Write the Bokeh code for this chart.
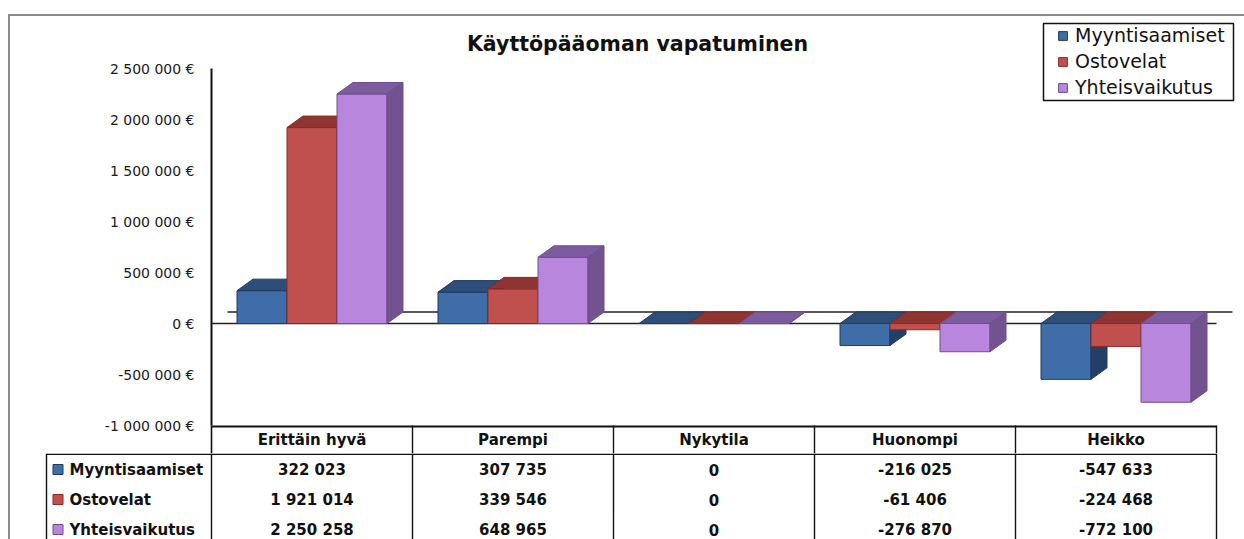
from bokeh.plotting import figure
from bokeh.models import (Range1d, FixedTicker, CustomJSTickFormatter, Legend,
                          LegendItem, BoxAnnotation, Label)
from bokeh.layouts import column
from bokeh.embed import file_html
from bokeh.resources import INLINE
from bokeh.core.properties import value

# ---------------- data ----------------
chart_title = "Käyttöpääoman vapatuminen"
categories = ["Erittäin hyvä", "Parempi", "Nykytila", "Huonompi", "Heikko"]
series_names = ["Myyntisaamiset", "Ostovelat", "Yhteisvaikutus"]
myyntisaamiset = [322023, 307735, 0, -216025, -547633]
ostovelat = [1921014, 339546, 0, -61406, -224468]
yhteisvaikutus = [2250258, 648965, 0, -276870, -772100]
y_ticks = [-1000000, -500000, 0, 500000, 1000000, 1500000, 2000000, 2500000]

series = [myyntisaamiset, ostovelat, yhteisvaikutus]

# ---------------- styles ----------------
FONT = "DejaVu Sans"
front_colors = ["#3E6DA7", "#C0504D", "#B887DD"]
top_colors = ["#2C4E78", "#8E3532", "#7C5C9E"]
side_colors = ["#233F66", "#7A2C2A", "#72538F"]
edge_colors = ["#1F3B60", "#8A2A28", "#6E4E8E"]
INK = "#111111"

# ---------------- layout (page pixels) ----------------
W = 1244
P1_H = 453               # plot area + table header row
P2_H = 86                # table body rows
FRAME_LEFT = 205         # left edge of the drawing frame
AXIS_PX = 211            # x pixel of the value axis
ZERO_PX = 323            # y pixel of value 0
PLOT_BOTTOM = 425        # y pixel of the plot-area bottom / table top
CAT_PX = 201.0           # pixel width of one category
VAL_PER_PX = 500000 / 51.0
n = len(categories)


def xd(px):
    return (px - AXIS_PX) / CAT_PX


def yd(py):
    return (ZERO_PX - py) * VAL_PER_PX


BAR_W = 50 / CAT_PX
DX = 16 / CAT_PX
DY = 11.5 * VAL_PER_PX
Y0, Y1 = y_ticks[0], y_ticks[-1]

p1 = figure(width=W, height=P1_H, x_range=Range1d(xd(FRAME_LEFT), xd(W)),
            y_range=Range1d(yd(P1_H), yd(0)),
            x_axis_location=None, toolbar_location=None, output_backend="svg",
            min_border_left=FRAME_LEFT, min_border_right=0,
            min_border_top=0, min_border_bottom=0,
            outline_line_color=None, background_fill_color=None,
            border_fill_color=None)
p1.frame_align = False
p1.grid.visible = False

ax = p1.yaxis[0]
ax.ticker = FixedTicker(ticks=y_ticks)
ax.formatter = CustomJSTickFormatter(code=r"""
const s = Math.round(tick).toString().replace(/\B(?=(\d{3})+(?!\d))/g, " ");
return s + " €";
""")
ax.major_tick_out = 0
ax.major_tick_in = 0
ax.minor_tick_out = 0
ax.minor_tick_in = 0
ax.axis_line_color = None
ax.major_label_standoff = 11
ax.major_label_text_font = FONT
ax.major_label_text_font_size = "14px"
ax.major_label_text_color = "#1a1a1a"

# value axis line
p1.segment(x0=[0], y0=[Y0], x1=[0], y1=[Y1], line_color=INK, line_width=2)

# floor lines (front and back edge of the zero plane)
p1.segment(x0=[0, DX], y0=[0, DY], x1=[n, n + DX], y1=[0, DY],
           line_color="#222222", line_width=1.3)

front_renderers = []
for k, vals in enumerate(series):
    xl = [i + 0.5 + (k - 1) * BAR_W - BAR_W / 2 for i in range(n)]
    xr = [a + BAR_W for a in xl]
    tops = [max(v, 0) for v in vals]
    bots = [min(v, 0) for v in vals]
    r = p1.quad(left=xl, right=xr, top=tops, bottom=bots,
                fill_color=front_colors[k], line_color=edge_colors[k], line_width=1)
    front_renderers.append(r)
    p1.patches(xs=[[l, rr, rr + DX, l + DX] for l, rr in zip(xl, xr)],
               ys=[[t, t, t + DY, t + DY] for t in tops],
               fill_color=top_colors[k], line_color=edge_colors[k], line_width=1)
    p1.patches(xs=[[rr, rr + DX, rr + DX, rr] for rr in xr],
               ys=[[b, b + DY, t + DY, t] for b, t in zip(bots, tops)],
               fill_color=side_colors[k], line_color=edge_colors[k], line_width=1)

p1.add_layout(Label(x=xd(637), y=yd(43), text=chart_title,
                    text_align="center", text_baseline="middle",
                    text_font=FONT, text_font_style="bold",
                    text_font_size="20.5px", text_color=INK))

legend = Legend(items=[LegendItem(label=nm, renderers=[front_renderers[k]])
                       for k, nm in enumerate(series_names)],
                location=(1057 - FRAME_LEFT, P1_H - 98), orientation="vertical",
                padding=0, margin=0, spacing=4,
                glyph_width=11, glyph_height=11, label_standoff=7,
                label_height=22,
                label_text_font=FONT, label_text_font_size="19px",
                label_text_color=INK,
                border_line_color=None, background_fill_alpha=0)
p1.add_layout(legend)

p1.add_layout(BoxAnnotation(left=xd(1043), right=xd(1233), top=yd(23), bottom=yd(100),
                            fill_alpha=0, line_color=INK, line_alpha=1.0,
                            line_width=1.5))

# ---------------- data table: header row (in p1) ----------------
p1.segment(x0=[0], y0=[yd(PLOT_BOTTOM + 1)], x1=[n], y1=[yd(PLOT_BOTTOM + 1)],
           line_color=INK, line_width=1.8)
p1.segment(x0=list(range(1, n + 1)), y0=[yd(PLOT_BOTTOM)] * n,
           x1=list(range(1, n + 1)), y1=[yd(P1_H + 5)] * n,
           line_color=INK, line_width=1.4)
p1.segment(x0=[0], y0=[Y0], x1=[0], y1=[yd(P1_H + 5)],
           line_color=INK, line_width=1.6)
p1.text(x=[i + 0.5 for i in range(n)], y=[yd(PLOT_BOTTOM + 14)] * n, text=categories,
        text_align="center", text_baseline="middle", text_font=value(FONT),
        text_font_style="bold", text_font_size="15px", text_color=INK)

# ---------------- data table: series rows (p2) ----------------
ROW_Y = [16 + 30 * r for r in range(3)]   # pixel rows below the header row
KEY_COL_X = xd(46)

p2 = figure(width=W, height=P2_H, x_range=Range1d(xd(0), xd(W)),
            y_range=Range1d(P2_H, 0), x_axis_location=None, y_axis_location=None,
            toolbar_location=None, output_backend="svg", min_border=0,
            outline_line_color=None, background_fill_color=None,
            border_fill_color=None)
p2.frame_align = False
p2.grid.visible = False

p2.segment(x0=[KEY_COL_X], y0=[0.8], x1=[n], y1=[0.8], line_color=INK, line_width=1.6)
p2.segment(x0=[KEY_COL_X] + list(range(n + 1)), y0=[0] * (n + 2),
           x1=[KEY_COL_X] + list(range(n + 1)), y1=[P2_H + 5] * (n + 2),
           line_color=INK, line_width=1.4)


def fmt(v):
    return f"{v:,}".replace(",", " ")


for k, vals in enumerate(series):
    p2.text(x=[i + 0.5 for i in range(n)], y=[ROW_Y[k]] * n,
            text=[fmt(v) for v in vals],
            text_align="center", text_baseline="middle", text_font=value(FONT),
            text_font_style="bold", text_font_size="15px", text_color=INK)

p2.scatter(x=[xd(57.5)] * 3, y=ROW_Y, marker="square",
           size=10, fill_color=front_colors, line_color=edge_colors, line_width=1)
p2.text(x=[xd(69)] * 3, y=ROW_Y, text=series_names,
        text_align="left", text_baseline="middle", text_font=value(FONT),
        text_font_style="bold", text_font_size="15px", text_color=INK)

layout = column(p1, p2, spacing=0, styles={
    "background-color": "white",
    "box-shadow": "inset 8px 14px 0 0 #ffffff, inset 10px 16px 0 0 #8c8c8c",
})
open("out.html", "w").write(file_html(layout, INLINE))
